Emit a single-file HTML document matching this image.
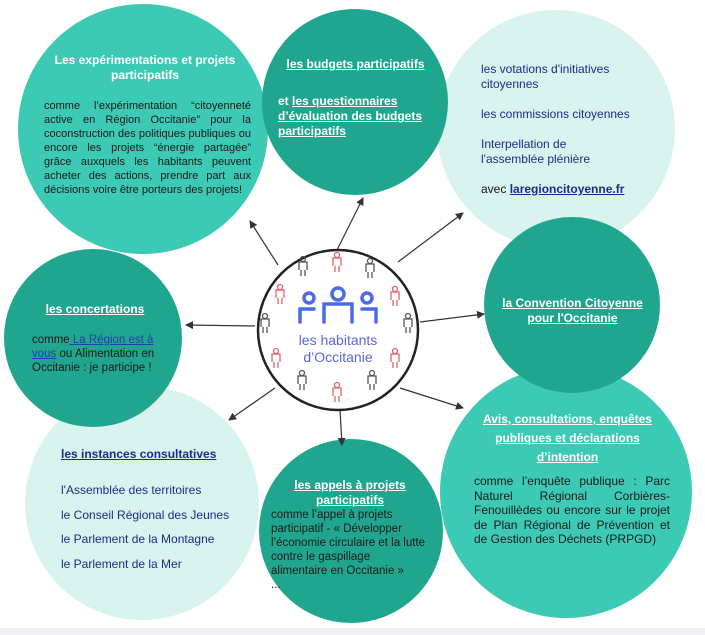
<!DOCTYPE html>
<html><head><meta charset="utf-8"><style>
body{margin:0;width:705px;height:635px;overflow:hidden;background:#fff;font-family:"Liberation Sans",sans-serif;position:relative}
.t{position:absolute;font-size:11px;line-height:13px;color:#1a1a1a}
.w{color:#fff;font-weight:bold;text-decoration:underline;font-size:12px;line-height:15px;text-align:center}
.j{text-align:justify}
.nv{color:#1e2a8a}
a{color:#1f3fae}
</style></head><body>
<svg width="705" height="635" style="position:absolute;left:0;top:0">
<defs><marker id="a" markerWidth="8" markerHeight="8" refX="7" refY="4" orient="auto" markerUnits="userSpaceOnUse"><path d="M0,0 L8,4 L0,8 z" fill="#333"/></marker></defs>
<rect x="0" y="628" width="705" height="7" fill="#f0f0f3"/>
<circle cx="556" cy="129" r="119" fill="#d9f3ee"/>
<circle cx="142" cy="503" r="117" fill="#d9f3ee"/>
<circle cx="143" cy="129" r="125" fill="#3ccab4"/>
<circle cx="566" cy="492" r="126" fill="#3ccab4"/>
<circle cx="355" cy="102" r="93" fill="#20a68f"/>
<circle cx="572" cy="305" r="88" fill="#20a68f"/>
<circle cx="93" cy="338" r="89" fill="#20a68f"/>
<circle cx="351" cy="531" r="92" fill="#20a68f"/>
<g stroke="#333" stroke-width="1.2" marker-end="url(#a)">
<line x1="278" y1="265" x2="250" y2="221"/>
<line x1="337" y1="250" x2="363" y2="198"/>
<line x1="398" y1="262" x2="463" y2="213"/>
<line x1="255" y1="326" x2="186" y2="325"/>
<line x1="420" y1="322" x2="484" y2="314"/>
<line x1="275" y1="388" x2="229" y2="420"/>
<line x1="340" y1="410" x2="342" y2="445"/>
<line x1="400" y1="388" x2="463" y2="408"/>
</g>
<circle cx="338" cy="330" r="80" fill="#fff" stroke="#222" stroke-width="2.5"/>
<g fill="none" stroke="#4a6ae8" stroke-width="3.5" stroke-linecap="round">
<circle cx="309" cy="298" r="5"/><circle cx="338" cy="294" r="6"/><circle cx="367" cy="298" r="5"/>
<path d="M300,322 v-13 h14 M324,322 v-18 h28 v18 M362,309 h14 v13"/>
</g>
<text x="338" y="345" text-anchor="middle" font-family="Liberation Sans" font-size="14" fill="#5a66d8">les habitants</text>
<text x="338" y="362" text-anchor="middle" font-family="Liberation Sans" font-size="14" fill="#5a66d8">d’Occitanie</text>
</svg>
<svg width="705" height="635" style="position:absolute;left:0;top:0" fill="none" stroke-width="1.3"></svg>
<script>
(function(){
var pts=[[337,262,1],[370,268,0],[395,296,1],[408,323,0],[395,358,1],[372,380,0],[337,392,1],[302,380,0],[276,358,1],[265,323,0],[280,294,1],[303,266,0]];
var s='';
pts.forEach(function(p){var x=p[0],y=p[1],c=p[2]?'#e06070':'#555';
s+='<g stroke="'+c+'" fill="none" stroke-width="1.3"><circle cx="'+x+'" cy="'+(y-7)+'" r="2.5"/><path d="M'+(x-4)+','+(y+4)+' v-8 h8 v8 M'+(x-2)+','+(y+4)+' v6 M'+(x+2)+','+(y+4)+' v6"/></g>';});
document.querySelectorAll('svg')[1].innerHTML=s;
})();
</script>
<div class="t w" style="left:40px;top:53px;width:210px;text-decoration:none">Les expérimentations et projets participatifs</div>
<div class="t j" style="left:44px;top:99px;width:207px;font-size:11px;line-height:14px">comme l’expérimentation “citoyenneté active en Région Occitanie” pour la coconstruction des politiques publiques ou encore les projets “énergie partagée” grâce auxquels les habitants peuvent acheter des actions, prendre part aux décisions voire être porteurs des projets!</div>
<div class="t w" style="left:278px;top:57px;width:155px">les budgets participatifs</div>
<div class="t w" style="left:278px;top:94px;width:150px;text-align:left;text-decoration:none">et <u>les questionnaires d’évaluation des budgets participatifs</u></div>
<div class="t nv" style="left:481px;top:62px;width:170px;font-size:12px;line-height:15px">les votations d'initiatives citoyennes<br><br>les commissions citoyennes<br><br>Interpellation de<br>l'assemblée plénière<br><br><span style="color:#111">avec <a style="color:#1e2a8a;font-weight:bold;text-decoration:underline">laregioncitoyenne.fr</a></span></div>
<div class="t w" style="left:490px;top:296px;width:165px">la Convention Citoyenne pour l'Occitanie</div>
<div class="t w" style="left:20px;top:302px;width:150px">les concertations</div>
<div class="t" style="left:32px;top:333px;width:130px;font-size:11.5px;line-height:14px">comme<a style="text-decoration:underline"> La Région est à vous</a> ou Alimentation en Occitanie : je participe !</div>
<div class="t" style="left:61px;top:448px;width:190px;font-size:12px;font-weight:bold;text-decoration:underline;color:#1e2a8a">les instances consultatives</div>
<div class="t nv" style="left:61px;top:478px;width:200px;font-size:12px;line-height:24.5px">l'Assemblée des territoires<br>le Conseil Régional des Jeunes<br>le Parlement de la Montagne<br>le Parlement de la Mer</div>
<div class="t w" style="left:280px;top:478px;width:140px">les appels à projets participatifs</div>
<div class="t" style="left:271px;top:508px;width:172px;font-size:11.5px;line-height:14px">comme l’appel à projets<br>participatif - « Développer<br>l’économie circulaire et la lutte<br>contre le gaspillage<br>alimentaire en Occitanie »<br>...</div>
<div class="t w" style="left:480px;top:410px;width:175px;line-height:19px">Avis, consultations, enquêtes publiques et déclarations d’intention</div>
<div class="t j" style="left:474px;top:474px;width:196px;font-size:12px;line-height:14.5px">comme l’enquête publique : Parc Naturel Régional Corbières-Fenouillèdes ou encore sur le projet de Plan Régional de Prévention et de Gestion des Déchets (PRPGD)</div>
</body></html>
